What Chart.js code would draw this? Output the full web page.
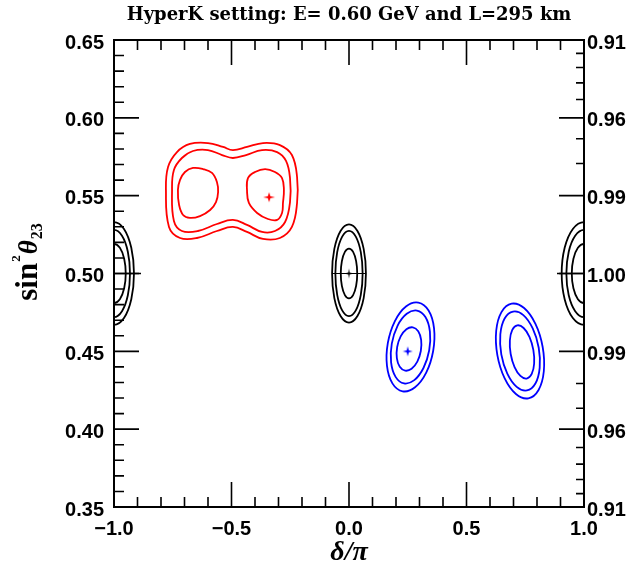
<!DOCTYPE html>
<html><head><meta charset="utf-8">
<script src="https://cdn.jsdelivr.net/npm/chart.js@4/dist/chart.umd.min.js"></script>
<style>html,body{margin:0;padding:0;background:#fff;}#wrap{width:633px;height:575px;}</style>
</head><body><div id="wrap"><canvas id="c" width="633" height="575"></canvas></div>
<script>
const titleText = "HyperK setting: E= 0.60 GeV and L=295 km";
const xTitle = "\u03B4/\u03C0";
const yTitleParts = ["sin", "2", "\u03B8", "23"];
const xTicks = [-1.0, -0.5, 0.0, 0.5, 1.0];
const yTicks = [0.35, 0.40, 0.45, 0.50, 0.55, 0.60, 0.65];
const yRightLabels = ["0.91", "0.96", "0.99", "1.00", "0.99", "0.96", "0.91"];
const rightMinorSin2 = [0.92, 0.93, 0.94, 0.95, 0.97, 0.98];

// red contours (closed loops)
const redOuter = [[-0.779,0.5536],[-0.770,0.5684],[-0.732,0.5780],[-0.677,0.5832],[-0.600,0.5838],[-0.536,0.5813],[-0.494,0.5793],[-0.434,0.5813],[-0.366,0.5838],[-0.294,0.5825],[-0.243,0.5761],[-0.221,0.5620],[-0.221,0.5453],[-0.243,0.5299],[-0.294,0.5228],[-0.366,0.5222],[-0.434,0.5267],[-0.494,0.5299],[-0.562,0.5273],[-0.647,0.5228],[-0.719,0.5228],[-0.766,0.5299]];
const redMiddle = [[-0.753,0.5536],[-0.745,0.5665],[-0.711,0.5742],[-0.664,0.5787],[-0.600,0.5793],[-0.540,0.5761],[-0.494,0.5742],[-0.438,0.5761],[-0.370,0.5793],[-0.306,0.5780],[-0.268,0.5723],[-0.251,0.5613],[-0.251,0.5459],[-0.272,0.5331],[-0.315,0.5273],[-0.370,0.5267],[-0.434,0.5312],[-0.494,0.5344],[-0.562,0.5318],[-0.643,0.5273],[-0.711,0.5273],[-0.745,0.5337]];
const redInnerL = [[-0.728,0.5536],[-0.719,0.5601],[-0.698,0.5652],[-0.664,0.5678],[-0.621,0.5671],[-0.583,0.5646],[-0.562,0.5588],[-0.557,0.5524],[-0.566,0.5459],[-0.591,0.5408],[-0.634,0.5369],[-0.677,0.5357],[-0.706,0.5376],[-0.723,0.5440]];
const redInnerR = [[-0.434,0.5536],[-0.430,0.5613],[-0.400,0.5652],[-0.357,0.5671],[-0.315,0.5652],[-0.285,0.5613],[-0.277,0.5536],[-0.281,0.5453],[-0.285,0.5389],[-0.306,0.5344],[-0.345,0.5350],[-0.391,0.5389],[-0.426,0.5453]];

// black contours around delta = 0 (closed loops)
const blackOuter = [[0.072,0.5],[0.0624,0.5158],[0.036,0.5273],[0,0.5315],[-0.036,0.5273],[-0.0624,0.5158],[-0.072,0.5],[-0.0624,0.4842],[-0.036,0.4727],[0,0.4685],[0.036,0.4727],[0.0624,0.4842]];
const blackMiddle = [[0.058,0.5],[0.0502,0.5137],[0.029,0.5237],[0,0.5274],[-0.029,0.5237],[-0.0502,0.5137],[-0.058,0.5],[-0.0502,0.4863],[-0.029,0.4763],[0,0.4726],[0.029,0.4763],[0.0502,0.4863]];
const blackInner = [[0.035,0.5],[0.0303,0.508],[0.0175,0.5139],[0,0.516],[-0.0175,0.5139],[-0.0303,0.508],[-0.035,0.5],[-0.0303,0.492],[-0.0175,0.4861],[0,0.484],[0.0175,0.4861],[0.0303,0.492]];

// black contours at delta = -pi and +pi (open, cut by the frame)
const edgeLOuter = [[-1.0425,0.5286],[-1,0.533],[-0.9575,0.5286],[-0.9264,0.5165],[-0.915,0.5],[-0.9264,0.4835],[-0.9575,0.4714],[-1,0.467],[-1.0425,0.4714]];
const edgeLMid = [[-1.034,0.5242],[-1,0.528],[-0.966,0.5242],[-0.9411,0.514],[-0.932,0.5],[-0.9411,0.486],[-0.966,0.4758],[-1,0.472],[-1.034,0.4758]];
const edgeLInner = [[-1.025,0.5165],[-1,0.519],[-0.975,0.5165],[-0.9567,0.5095],[-0.95,0.5],[-0.9567,0.4905],[-0.975,0.4835],[-1,0.481],[-1.025,0.4835]];
const edgeROuter = [[1.0475,0.5286],[1,0.533],[0.9525,0.5286],[0.9177,0.5165],[0.905,0.5],[0.9177,0.4835],[0.9525,0.4714],[1,0.467],[1.0475,0.4714]];
const edgeRMid = [[1.0375,0.5242],[1,0.528],[0.9625,0.5242],[0.935,0.514],[0.925,0.5],[0.935,0.486],[0.9625,0.4758],[1,0.472],[1.0375,0.4758]];
const edgeRInner = [[1.026,0.5165],[1,0.519],[0.974,0.5165],[0.955,0.5095],[0.948,0.5],[0.955,0.4905],[0.974,0.4835],[1,0.481],[1.026,0.4835]];

// blue contours near delta = 0.25 pi (closed loops)
const blueAOuter = [[0.3581,0.4502],[0.3286,0.4363],[0.2811,0.4269],[0.2284,0.4243],[0.1847,0.4294],[0.1615,0.4408],[0.1653,0.4554],[0.1948,0.4693],[0.2423,0.4788],[0.2950,0.4813],[0.3387,0.4762],[0.3619,0.4648]];
const blueAMid = [[0.3413,0.4507],[0.3169,0.4393],[0.2778,0.4315],[0.2343,0.4294],[0.1982,0.4336],[0.1791,0.4429],[0.1821,0.4549],[0.2065,0.4664],[0.2456,0.4741],[0.2891,0.4762],[0.3252,0.4720],[0.3443,0.4627]];
const blueAInner = [[0.3056,0.4502],[0.2907,0.4434],[0.2663,0.4388],[0.2390,0.4376],[0.2160,0.4401],[0.2036,0.4457],[0.2050,0.4528],[0.2199,0.4596],[0.2443,0.4642],[0.2716,0.4654],[0.2946,0.4629],[0.3070,0.4573]];

// blue contours near delta = 0.75 pi (closed loops)
const blueBOuter = [[0.8241,0.4528],[0.8290,0.4372],[0.8067,0.4252],[0.7632,0.4198],[0.7103,0.4226],[0.6620,0.4328],[0.6313,0.4476],[0.6264,0.4632],[0.6487,0.4752],[0.6922,0.4806],[0.7451,0.4778],[0.7934,0.4676]];
const blueBMid = [[0.8073,0.4523],[0.8114,0.4394],[0.7932,0.4293],[0.7573,0.4249],[0.7136,0.4272],[0.6736,0.4357],[0.6481,0.4481],[0.6440,0.4610],[0.6622,0.4711],[0.6981,0.4755],[0.7419,0.4733],[0.7818,0.4647]];
const blueBInner = [[0.7844,0.4509],[0.7879,0.4422],[0.7776,0.4355],[0.7562,0.4325],[0.7294,0.4342],[0.7045,0.4399],[0.6880,0.4483],[0.6845,0.4570],[0.6948,0.4638],[0.7162,0.4667],[0.7430,0.4650],[0.7679,0.4593]];

// best-fit points
const redBest = [[-0.34, 0.549]];
const blackBest = [[0.0, 0.5]];
const blueBest = [[0.25, 0.45]];
const edgeBest = [[-1.0, 0.5], [1.0, 0.5]];

const RED = '#ff0000', BLUE = '#0000ff', BLACK = '#000000';
const LW = 1.8;

function pts(a) { return a.map(p => ({x: p[0], y: p[1]})); }
function openCurve(a, color) {
  return {data: pts(a), showLine: true, borderColor: color, borderWidth: LW, pointRadius: 0, tension: 0.4, fill: false, clip: 1};
}
// closed loop: wrap one point on each side and hide the two wrap segments so the join is smooth
function loop(a, color) {
  const w = [a[a.length - 1], ...a, a[0], a[1]];
  const last = w.length - 1;
  return {
    data: pts(w), showLine: true, borderColor: color, borderWidth: LW, pointRadius: 0, tension: 0.4, fill: false, clip: 1,
    segment: {borderColor: c => (c.p0DataIndex === 0 || c.p1DataIndex === last) ? 'rgba(0,0,0,0)' : color}
  };
}
function star4(color, rx, ry) {
  const c = document.createElement('canvas');
  c.width = 2 * rx + 2; c.height = 2 * ry + 2;
  const g = c.getContext('2d');
  const mx = rx + 1, my = ry + 1, k = 0.22;
  g.fillStyle = color;
  g.beginPath();
  g.moveTo(mx, my - ry); g.lineTo(mx + rx * k, my - ry * k); g.lineTo(mx + rx, my);
  g.lineTo(mx + rx * k, my + ry * k); g.lineTo(mx, my + ry); g.lineTo(mx - rx * k, my + ry * k);
  g.lineTo(mx - rx, my); g.lineTo(mx - rx * k, my - ry * k); g.closePath(); g.fill();
  return c;
}
function marker(a, style, radius, color, bw) {
  return {data: pts(a), showLine: false, pointStyle: style, pointRadius: radius, pointBorderColor: color, pointBackgroundColor: color, pointBorderWidth: bw || 1, clip: 0};
}
function fmt(v) { return (v < 0 ? '\u2212' : '') + Math.abs(v).toFixed(1); }

const framePlugin = {
  id: 'frame',
  afterDatasetsDraw(chart) {
    const {ctx, chartArea: a, scales} = chart;
    const xs = scales.x, ys = scales.y;
    ctx.save();
    ctx.strokeStyle = '#000';
    ctx.lineWidth = 1.6;
    ctx.beginPath();
    const MAJ = 25, MIN = 10;
    for (let i = -9; i <= 9; i++) {
      const px = xs.getPixelForValue(i / 10);
      const len = (i % 5 === 0) ? MAJ : MIN;
      ctx.moveTo(px, a.bottom); ctx.lineTo(px, a.bottom - len);
      ctx.moveTo(px, a.top); ctx.lineTo(px, a.top + len);
    }
    for (let i = 36; i <= 64; i++) {
      const py = ys.getPixelForValue(i / 100);
      const len = (i % 5 === 0) ? MAJ : MIN;
      ctx.moveTo(a.left, py); ctx.lineTo(a.left + len, py);
      if (i % 5 === 0) { ctx.moveTo(a.right, py); ctx.lineTo(a.right - len, py); }
    }
    rightMinorSin2.forEach(s2 => {
      const r = Math.sqrt(1 - s2) / 2;
      [0.5 + r, 0.5 - r].forEach(s => {
        const py = ys.getPixelForValue(s);
        ctx.moveTo(a.right, py); ctx.lineTo(a.right - 8, py);
      });
    });
    ctx.stroke();
    ctx.lineWidth = 2;
    ctx.strokeRect(a.left, a.top, a.right - a.left, a.bottom - a.top);

    // chart title
    ctx.fillStyle = '#000';
    ctx.textAlign = 'center';
    ctx.textBaseline = 'alphabetic';
    let size = 16;
    ctx.font = 'bold ' + size + 'px "DejaVu Serif"';
    const w = ctx.measureText(titleText).width;
    size = size * 445 / w;
    ctx.font = 'bold ' + size.toFixed(2) + 'px "DejaVu Serif"';
    ctx.fillText(titleText, (a.left + a.right) / 2, 20);

    // y axis title: sin^2 theta_23, rotated
    const fonts = ['bold 31px "Liberation Serif"', 'bold 13px "Liberation Serif"', 'italic bold 27px "Liberation Serif"', 'bold 16px "Liberation Serif"'];
    const shifts = [0, -17, 0, 5];
    const gaps = [1, 1, 1, 0];
    let total = 0;
    const widths = yTitleParts.map((t, i) => { ctx.font = fonts[i]; const ww = ctx.measureText(t).width; total += ww + gaps[i]; return ww; });
    ctx.save();
    ctx.translate(37, 262);
    ctx.rotate(-Math.PI / 2);
    ctx.textAlign = 'left';
    let xx = -total / 2;
    yTitleParts.forEach((t, i) => { ctx.font = fonts[i]; ctx.fillText(t, xx, shifts[i]); xx += widths[i] + gaps[i]; });
    ctx.restore();
    ctx.restore();
  }
};

const tickFont = {family: '"Liberation Sans", Arial, sans-serif', size: 20, weight: 'bold'};

new Chart(document.getElementById('c').getContext('2d'), {
  type: 'scatter',
  data: {
    datasets: [
      loop(redOuter, RED), loop(redMiddle, RED), loop(redInnerL, RED), loop(redInnerR, RED),
      loop(blackOuter, BLACK), loop(blackMiddle, BLACK), loop(blackInner, BLACK),
      openCurve(edgeLOuter, BLACK), openCurve(edgeLMid, BLACK), openCurve(edgeLInner, BLACK),
      openCurve(edgeROuter, BLACK), openCurve(edgeRMid, BLACK), openCurve(edgeRInner, BLACK),
      loop(blueAOuter, BLUE), loop(blueAMid, BLUE), loop(blueAInner, BLUE),
      loop(blueBOuter, BLUE), loop(blueBMid, BLUE), loop(blueBInner, BLUE),
      marker(redBest, star4(RED, 6, 5), 6, RED),
      marker(blueBest, star4(BLUE, 5, 5), 5, BLUE),
      marker(blackBest, star4(BLACK, 3, 5), 5, BLACK),
      marker(blackBest, 'line', 17, BLACK, 1.2),
      marker(edgeBest, 'line', 27, BLACK, 1.4)
    ]
  },
  options: {
    responsive: false,
    animation: false,
    events: [],
    layout: {padding: {top: 40, left: 0, right: 0, bottom: 0}},
    plugins: {legend: {display: false}, tooltip: {enabled: false}, title: {display: false}},
    scales: {
      x: {
        type: 'linear', min: -1, max: 1, position: 'bottom',
        grid: {display: false, drawTicks: false}, border: {display: false},
        afterBuildTicks: s => { s.ticks = xTicks.map(v => ({value: v})); },
        afterFit: s => { s.height = 68; },
        ticks: {callback: v => fmt(v), font: tickFont, color: '#000', padding: 10, maxRotation: 0, autoSkip: false},
        title: {display: true, text: xTitle, color: '#000', font: {family: '"Liberation Serif"', size: 28, style: 'italic', weight: 'bold'}, padding: {top: 0, bottom: 5}}
      },
      y: {
        type: 'linear', min: 0.35, max: 0.65, position: 'left',
        grid: {display: false, drawTicks: false}, border: {display: false},
        afterBuildTicks: s => { s.ticks = yTicks.map(v => ({value: v})); },
        afterFit: s => { s.width = 114; },
        ticks: {callback: v => v.toFixed(2), font: tickFont, color: '#000', padding: 10, labelOffset: 3, autoSkip: false}
      },
      y2: {
        type: 'linear', min: 0.35, max: 0.65, position: 'right',
        grid: {display: false, drawTicks: false}, border: {display: false},
        afterBuildTicks: s => { s.ticks = yTicks.map(v => ({value: v})); },
        afterFit: s => { s.width = 49; },
        ticks: {callback: (v, i) => yRightLabels[i], font: tickFont, color: '#000', padding: 3, labelOffset: 3, autoSkip: false}
      }
    }
  },
  plugins: [framePlugin]
});
</script>
</body></html>
